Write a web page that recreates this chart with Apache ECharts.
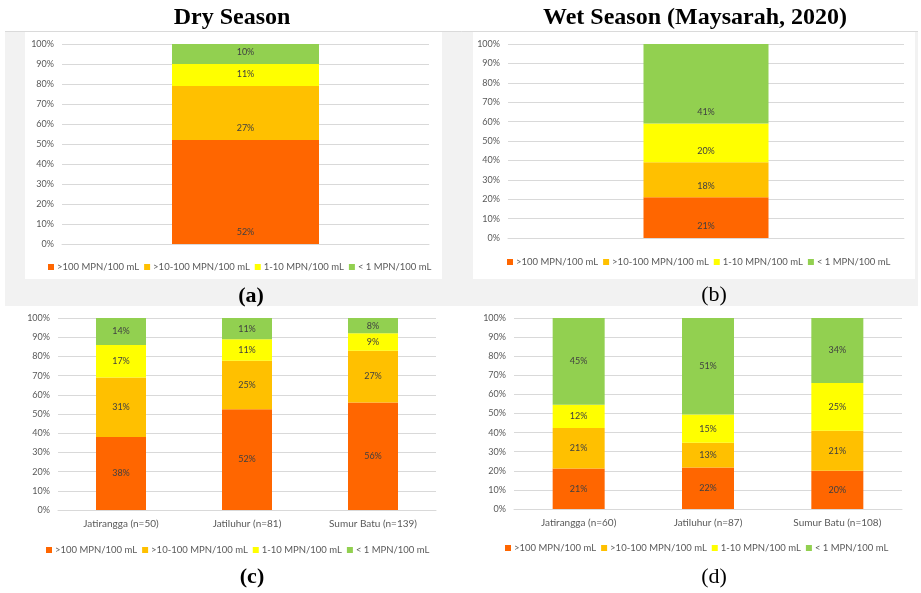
<!DOCTYPE html>
<html>
<head>
<meta charset="utf-8">
<script src="https://cdn.jsdelivr.net/npm/echarts@6/dist/echarts.min.js"></script>
<style>
  html, body { margin: 0; padding: 0; background: #ffffff; }
  #chart { width: 921px; height: 593px; }
</style>
</head>
<body>
<div id="chart"></div>
<script>
// Bacterial count classes (MPN per 100 mL), shared by every panel
const classes = ['>100 MPN/100 mL', '>10-100 MPN/100 mL', '1-10 MPN/100 mL', '< 1 MPN/100 mL'];
const classColors = ['#FF6600', '#FFC000', '#FFFF00', '#92D050'];

// (a) Dry season, all sites combined
const dryAllCats = [''];
const dryAll = [[52], [27], [11], [10]];

// (b) Wet season (Maysarah, 2020), all sites combined
const wetAllCats = [''];
const wetAll = [[21], [18], [20], [41]];

// (c) Dry season per site
const drySiteCats = ['Jatirangga (n=50)', 'Jatiluhur (n=81)', 'Sumur Batu (n=139)'];
const drySite = [[38, 52, 56], [31, 25, 27], [17, 11, 9], [14, 11, 8]];

// (d) Wet season per site
const wetSiteCats = ['Jatirangga (n=60)', 'Jatiluhur (n=87)', 'Sumur Batu (n=108)'];
const wetSite = [[21, 22, 20], [21, 13, 21], [12, 15, 25], [45, 51, 34]];

const yTicks = ['0%', '10%', '20%', '30%', '40%', '50%', '60%', '70%', '80%', '90%', '100%'];

const FONT = 'Lato';
const SERIF = '"Liberation Serif", "Times New Roman", serif';
const textGray = '#595959';
const gridGray = '#d9d9d9';

// panel layout: grid box, bar width, label placement, legend position
const panels = [
  { cats: dryAllCats, vals: dryAll, grid: { left: 62, top: 44, width: 367, height: 200 }, barWidth: 147, labelPos: 'insideBottom', legend: { left: 43, top: 257 } },
  { cats: wetAllCats, vals: wetAll, grid: { left: 508, top: 44, width: 396, height: 194 }, barWidth: 125, labelPos: 'insideBottom', legend: { left: 502, top: 252 } },
  { cats: drySiteCats, vals: drySite, grid: { left: 58, top: 318, width: 378, height: 192 }, barWidth: 50, labelPos: 'inside', legend: { left: 41, top: 540 } },
  { cats: wetSiteCats, vals: wetSite, grid: { left: 514, top: 318, width: 388, height: 191 }, barWidth: 52, labelPos: 'inside', legend: { left: 500, top: 538 } }
];

const grids = [], xAxes = [], yAxes = [], series = [], legends = [];

panels.forEach((p, pi) => {
  grids.push({ left: p.grid.left, top: p.grid.top, width: p.grid.width, height: p.grid.height, containLabel: false });
  xAxes.push({
    type: 'category', gridIndex: pi, data: p.cats,
    axisLine: { show: true, lineStyle: { color: gridGray, width: 1 } },
    axisTick: { show: false },
    axisLabel: { show: p.cats.length > 1, color: textGray, fontFamily: FONT, fontSize: 10, margin: 9 }
  });
  yAxes.push({
    type: 'value', gridIndex: pi, min: 0, max: 100, interval: 10,
    axisLine: { show: false }, axisTick: { show: false },
    splitLine: { lineStyle: { color: gridGray, width: 1 } },
    axisLabel: {
      color: textGray, fontFamily: FONT, fontSize: 9, margin: 8,
      formatter: v => yTicks[Math.round(v / 10)]
    }
  });

  // 100% stacked: each column is drawn as its share of the column total
  const totals = p.cats.map((_, ci) => p.vals.reduce((s, row) => s + row[ci], 0));

  classes.forEach((name, si) => {
    series.push({
      name: name, type: 'bar', stack: 'panel' + pi,
      xAxisIndex: pi, yAxisIndex: pi,
      barWidth: p.barWidth,
      itemStyle: { color: classColors[si] },
      label: {
        show: true, position: p.labelPos, distance: 7,
        color: '#404040', fontFamily: FONT, fontSize: 9,
        formatter: prm => prm.data.raw + '%'
      },
      emphasis: { disabled: true },
      data: p.vals[si].map((v, ci) => ({ value: v / totals[ci] * 100, raw: v }))
    });
  });

  legends.push({
    data: classes, selectedMode: false,
    left: p.legend.left, top: p.legend.top, width: 440,
    orient: 'horizontal',
    itemWidth: 6, itemHeight: 6, itemGap: 5,
    icon: 'rect',
    textStyle: { color: textGray, fontFamily: FONT, fontSize: 9.5, padding: [0, 0, 0, -2] }
  });
});

const chart = echarts.init(document.getElementById('chart'), null, { renderer: 'canvas' });

chart.setOption({
  animation: false,
  backgroundColor: '#ffffff',
  graphic: [
    // shaded band behind the top pair of charts
    { type: 'rect', z: -10, shape: { x: 5, y: 31, width: 913, height: 275 }, style: { fill: '#f2f2f2' } },
    { type: 'line', z: -9, shape: { x1: 5, y1: 31.5, x2: 918, y2: 31.5 }, style: { stroke: '#dadada', lineWidth: 1 } },
    { type: 'rect', z: -8, shape: { x: 25, y: 32, width: 417, height: 247 }, style: { fill: '#ffffff' } },
    { type: 'rect', z: -8, shape: { x: 473, y: 32, width: 442, height: 247 }, style: { fill: '#ffffff' } },
    // column titles
    { type: 'text', style: { text: 'Dry Season', x: 232, y: 18, align: 'center', verticalAlign: 'middle', font: 'bold 24px ' + SERIF, fill: '#000' } },
    { type: 'text', style: { text: 'Wet Season (Maysarah, 2020)', x: 695, y: 18, align: 'center', verticalAlign: 'middle', font: 'bold 24px ' + SERIF, fill: '#000' } },
    // panel letters
    { type: 'text', style: { text: '(a)', x: 251, y: 296, align: 'center', verticalAlign: 'middle', font: 'bold 22px ' + SERIF, fill: '#000' } },
    { type: 'text', style: { text: '(b)', x: 714, y: 295, align: 'center', verticalAlign: 'middle', font: '22px ' + SERIF, fill: '#000' } },
    { type: 'text', style: { text: '(c)', x: 252, y: 577, align: 'center', verticalAlign: 'middle', font: 'bold 22px ' + SERIF, fill: '#000' } },
    { type: 'text', style: { text: '(d)', x: 714, y: 577, align: 'center', verticalAlign: 'middle', font: '22px ' + SERIF, fill: '#000' } }
  ],
  grid: grids,
  xAxis: xAxes,
  yAxis: yAxes,
  legend: legends,
  series: series
});
</script>
</body>
</html>
